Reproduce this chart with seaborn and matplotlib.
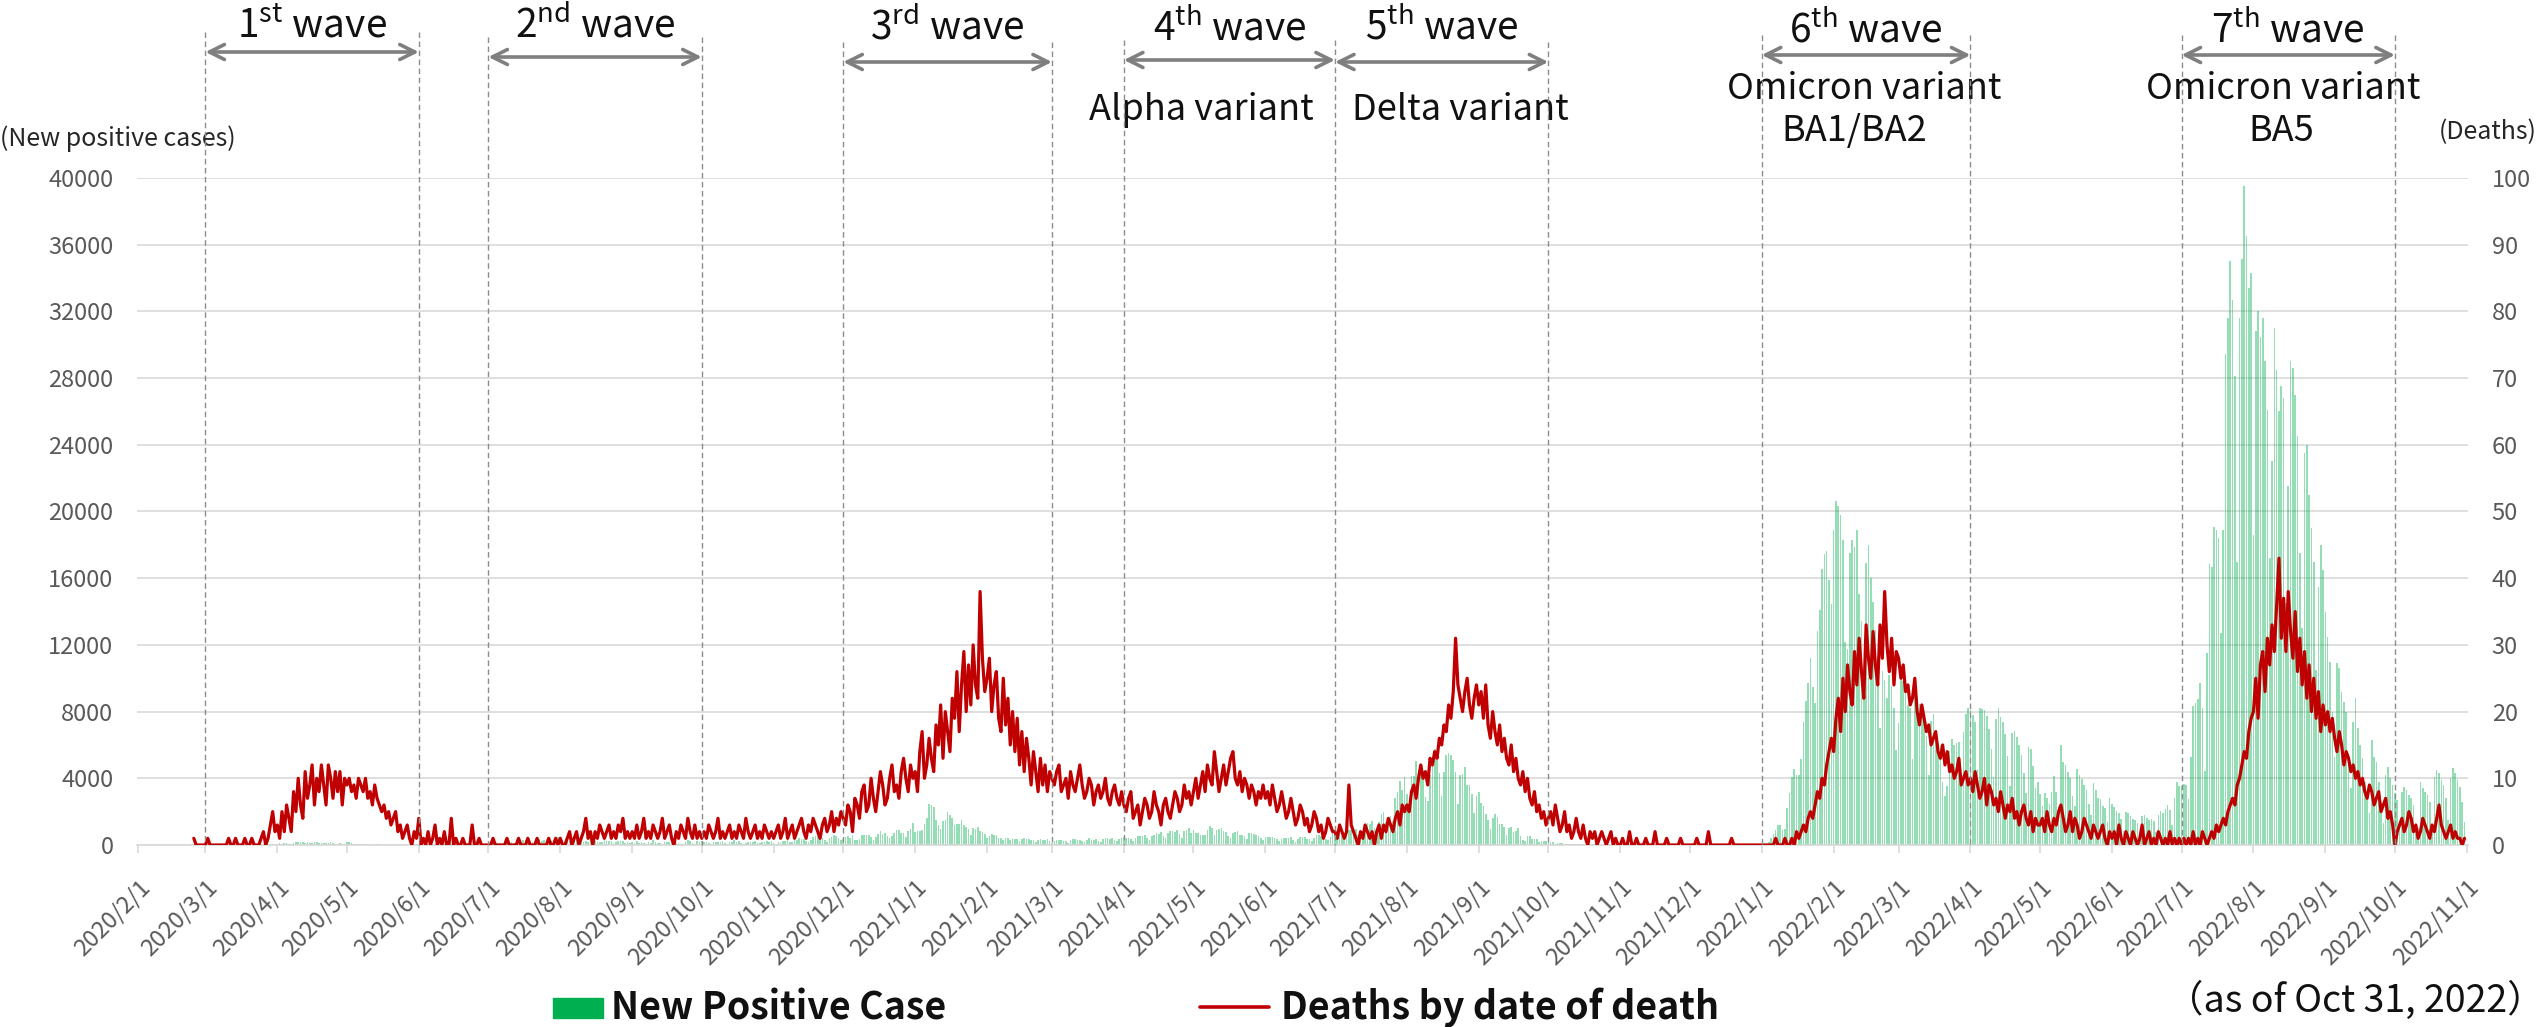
import matplotlib
matplotlib.use("Agg")
import numpy as np
import pandas as pd
import matplotlib.pyplot as plt
import matplotlib.dates as mdates
import matplotlib.transforms as mtransforms
from matplotlib.patches import Rectangle
from matplotlib.lines import Line2D
import seaborn as sns

# ------------------------------------------------------------------
# Data: daily new positive cases (left axis) and deaths by date of death (right axis)
# ------------------------------------------------------------------
cases_2020_02 = [0,0,0,0,0,0,0,0,0,0,0,0,1,2,3,1,2,1,3,1,2,3,1,2,0,3,1,2,1]
cases_2020_03 = [1,1,2,4,8,3,4,4,2,2,2,7,1,4,1,1,2,12,8,5,9,12,18,17,41,47,40,63,68,13,78]
cases_2020_04 = [66,97,89,116,143,83,79,144,181,189,197,166,91,161,127,149,206,181,107,102,123,132,134,161,103,72,39,112,47,46]
cases_2020_05 = [165,154,91,87,58,38,23,39,36,22,15,28,10,30,9,14,5,10,5,5,11,3,2,14,8,21,11,15,22,14,5]
cases_2020_06 = [13,34,12,20,28,26,14,13,12,18,22,25,24,47,48,27,16,41,35,39,29,48,31,55,48,54,57,60,58,54]
cases_2020_07 = [67,107,124,131,111,102,75,224,243,206,206,119,102,143,165,286,293,290,188,168,237,238,366,260,295,131,266,266,250,367,463]
cases_2020_08 = [472,292,258,309,263,360,462,429,331,197,188,222,206,389,385,260,161,207,186,339,258,256,212,95,182,236,250,226,148,199,100]
cases_2020_09 = [170,141,211,136,181,143,77,170,149,276,187,146,146,80,163,163,191,220,218,130,98,88,59,195,270,218,144,78,212,194]
cases_2020_10 = [235,196,207,143,59,194,177,172,186,249,146,78,166,177,284,185,235,124,78,139,185,186,185,215,102,102,158,170,221,203,215]
cases_2020_11 = [116,87,209,122,269,242,294,189,157,293,317,393,374,352,255,180,298,493,534,522,539,391,314,186,401,481,570,561,418,311]
cases_2020_12 = [372,500,533,449,584,327,299,352,572,602,595,621,480,305,460,678,822,664,736,556,392,563,748,888,884,710,708,481,856,944,1337]
cases_2021_01 = [783,814,816,884,1278,1591,2447,2392,2268,1494,1219,970,1433,1502,2001,1809,1592,1204,1274,1240,1471,1184,1070,986,618,1026,973,1064,868,769,633]
cases_2021_02 = [393,556,676,577,577,429,429,276,412,434,307,371,369,371,266,378,445,353,353,327,272,178,275,340,270,329,337,232]
cases_2021_03 = [121,232,316,279,301,239,237,116,290,340,335,304,293,239,175,300,409,323,303,342,256,187,337,420,394,376,430,313,234,364,414]
cases_2021_04 = [475,440,446,355,249,399,555,545,537,570,421,306,510,591,729,667,759,543,405,711,843,861,759,876,635,425,828,925,1027,698]
cases_2021_05 = [879,708,708,609,621,591,907,1121,1032,573,925,969,1010,854,772,542,419,732,766,843,614,629,535,340,743,703,684,614,539,397,309]
cases_2021_06 = [471,487,508,472,436,351,235,369,440,439,435,467,304,209,337,501,452,453,388,376,236,435,619,570,562,534,386,317,476,714]
cases_2021_07 = [673,660,716,518,342,593,920,896,822,950,614,502,830,1149,1308,1271,1410,1008,727,1387,1832,1979,1359,1128,1763,1429,2848,3177,3865,3300,4058]
cases_2021_08 = [3058,2195,4166,4166,5042,4515,4566,4066,2884,2612,4200,4989,5773,5094,4295,2962,4377,5386,5534,5405,5074,4392,2447,4220,4228,4704,3581,3581,3081,1915,2909]
cases_2021_09 = [3168,2539,2362,1853,1490,968,1629,1834,1675,1242,1273,1067,611,1004,1052,782,862,1007,569,302,253,537,531,382,380,382,154,266,267,218]
cases_2021_10 = [200,196,161,87,149,144,138,82,66,60,49,77,77,62,72,66,40,29,36,41,36,26,32,19,17,36,29,21,22,23,9]
cases_2021_11 = [9,29,17,18,25,27,18,6,19,24,28,22,18,18,7,10,22,23,20,7,17,8,15,6,8,20,16,12,9,21]
cases_2021_12 = [14,20,14,19,13,5,16,25,21,11,20,17,10,28,20,20,16,20,16,12,29,25,37,34,37,9,33,76,64,64,78]
cases_2022_01 = [79,84,103,151,390,641,922,1224,1223,871,962,2198,3124,4051,4561,4172,4172,5185,7377,8638,9699,11227,9468,8503,12813,14086,16538,17433,17631,15895,14445]
cases_2022_02 = [18900,20600,20300,19800,18287,12198,11751,17526,18287,17864,18891,15027,13454,9796,16928,18000,16015,14567,12918,11203,7014,10432,9875,8837,10211,9520,8219,5718]
cases_2022_03 = [7331,10088,9813,9217,8411,8190,5185,8925,8934,8478,8122,7587,6536,4181,7424,7865,6886,6089,5989,3787,2939,3533,5648,6372,6015,6099,6162,3815,6774,7857,8226]
cases_2022_04 = [8083,7826,7349,4572,8235,8144,8112,7729,6984,5754,4083,7542,8216,7660,7362,6627,5354,3521,6713,6846,6458,6013,5417,4302,3134,5862,5730,4744,3393,3764]
cases_2022_05 = [3043,2323,3121,2790,2483,3200,4131,3200,2323,6005,4980,4815,4352,4013,2954,2323,4581,4226,3982,3620,3280,2469,1773,3689,3298,2814,2773,2347,2200,1402,2806]
cases_2022_06 = [2455,2271,2046,1938,1542,828,1963,1928,1765,1567,1471,1302,697,1741,1825,1646,1502,1576,1419,796,1788,2021,1948,2132,2427,2094,1176,2802,3803,3546]
cases_2022_07 = [3546,3643,3616,2772,5302,8341,8529,8777,9716,8205,4444,11511,16878,16662,19059,18919,18386,12696,18919,29436,31593,34995,32698,28112,16944,31593,35118,39500,36522,33401,34309]
cases_2022_08 = [18569,30842,32001,30467,31599,29036,26103,17226,23000,31000,28500,26000,27500,26800,14500,21500,29000,28600,27000,24500,17500,13000,23500,24000,21000,19000,17000,10500,15500,18000,16500]
cases_2022_09 = [14000,12500,11000,8000,5300,10900,10600,9200,8600,8000,5000,3400,7400,8800,7000,6000,5200,3800,2800,1900,6300,5300,5000,3800,2600,1300,4200,4700,4000,3600]
cases_2022_10 = [3100,2700,1100,3200,3500,3300,3000,2800,2400,1200,1000,3800,3400,3200,3000,2600,1000,4100,4500,4300,3900,3600,2800,1500,4000,4600,4300,3900,3500,2600,1400]

deaths_2020_02 = [1,0,0,0,0]  # from Feb 25
deaths_2020_03 = [0,1,0,0,0,0,0,0,0,0,1,0,0,1,0,0,0,1,0,0,1,0,0,0,1,2,0,1,3,5,2]
deaths_2020_04 = [3,1,5,2,6,4,2,8,5,10,6,4,11,7,9,12,6,10,8,12,9,6,12,10,7,11,8,11,6,10]
deaths_2020_05 = [9,10,8,9,7,10,9,8,10,7,8,6,9,7,6,5,6,4,5,3,4,5,2,3,1,2,3,1,0,2,1]
deaths_2020_06 = [4,0,1,0,2,0,1,3,0,1,0,2,0,0,4,0,1,0,0,1,0,0,0,3,0,0,1,0,0,0]
deaths_2020_07 = [0,0,1,0,0,0,0,0,1,0,0,0,0,1,0,0,0,1,0,0,0,1,0,0,0,0,1,0,0,1,0]
deaths_2020_08 = [1,0,0,1,2,0,1,2,0,1,2,4,1,2,0,2,1,3,2,1,2,3,1,2,1,3,2,4,1,2,1]
deaths_2020_09 = [2,1,3,1,2,4,1,2,1,3,2,1,2,4,1,2,3,1,0,2,1,3,2,1,4,2,1,3,1,2]
deaths_2020_10 = [1,2,1,3,2,1,2,4,1,2,1,2,3,1,2,1,3,2,1,4,2,1,2,3,1,2,1,3,2,1,2]
deaths_2020_11 = [1,2,3,1,2,4,1,2,3,1,2,3,4,2,1,3,2,4,3,2,1,3,4,2,3,5,2,4,3,5]
deaths_2020_12 = [4,3,6,5,2,7,6,4,8,9,5,6,10,7,5,8,11,9,6,7,10,12,8,9,7,11,13,10,8,12,10]
deaths_2021_01 = [11,8,14,17,10,12,16,13,11,18,15,21,13,20,17,14,22,19,26,17,24,29,20,27,21,30,24,22,38,28,23]
deaths_2021_02 = [25,28,20,24,26,19,17,25,18,22,15,20,14,19,12,17,11,16,13,9,14,11,8,13,9,12,8,11]
deaths_2021_03 = [10,9,11,12,8,9,10,7,11,9,8,10,12,9,7,8,10,9,6,8,9,7,8,10,7,6,8,9,7,6,8]
deaths_2021_04 = [6,5,7,8,4,5,6,3,5,7,6,4,5,8,6,5,3,6,7,5,4,6,8,7,5,6,9,7,8,6]
deaths_2021_05 = [8,10,7,9,11,8,12,10,9,14,11,8,10,12,9,11,13,14,10,9,11,8,10,9,7,9,8,6,8,7,9]
deaths_2021_06 = [7,8,6,9,7,5,6,8,6,4,5,7,5,3,4,6,5,3,4,2,3,5,4,2,3,1,2,4,3,2]
deaths_2021_07 = [2,1,3,2,1,2,9,3,2,1,0,2,1,3,2,1,2,0,2,3,1,3,2,4,3,2,4,5,3,6,5]
deaths_2021_08 = [6,5,8,9,7,10,12,10,11,9,13,12,14,13,16,15,18,17,21,19,23,31,24,22,20,23,25,21,19,22,24]
deaths_2021_09 = [21,23,19,24,18,16,20,17,15,18,14,16,13,12,15,11,13,10,9,11,8,10,7,6,8,5,6,4,5,3]
deaths_2021_10 = [4,5,3,6,4,2,3,5,2,3,1,2,4,2,1,3,1,0,2,1,2,0,1,2,1,0,1,2,0,1,0]
deaths_2021_11 = [0,1,0,0,2,0,0,1,0,0,0,1,0,0,0,2,0,0,0,0,1,0,0,0,0,0,1,0,0,0]
deaths_2021_12 = [0,0,0,1,0,0,0,0,2,0,0,0,0,0,0,0,0,0,1,0,0,0,0,0,0,0,0,0,0,0,0]
deaths_2022_01 = [0,0,0,0,0,0,1,0,0,0,1,0,0,1,0,2,1,2,3,2,4,5,4,6,8,7,10,9,12,14,16]
deaths_2022_02 = [14,19,22,17,25,20,27,23,21,29,24,31,26,22,33,28,25,32,27,24,33,28,38,30,26,31,24,29]
deaths_2022_03 = [28,25,27,23,24,21,22,25,20,18,21,19,17,18,15,16,17,14,13,15,12,14,11,12,10,11,13,9,10,11,9]
deaths_2022_04 = [10,8,11,9,7,8,10,6,9,8,6,7,5,8,6,4,6,5,7,4,5,3,5,6,4,3,5,2,4,3]
deaths_2022_05 = [3,4,2,5,3,2,4,3,5,6,4,2,3,5,2,4,3,1,2,4,3,2,1,3,2,1,2,3,1,0,2]
deaths_2022_06 = [1,2,0,3,1,0,2,1,0,2,1,0,1,3,0,1,2,0,1,0,2,1,0,1,0,2,0,1,0,1]
deaths_2022_07 = [0,1,0,1,0,2,0,1,0,2,1,0,1,2,1,3,2,3,4,3,5,6,7,6,9,10,12,14,13,17,19]
deaths_2022_08 = [20,25,19,27,29,23,31,27,33,29,36,43,31,37,29,38,32,28,35,26,31,24,29,22,27,20,25,19,23,17,21]
deaths_2022_09 = [18,20,17,19,16,14,17,15,12,14,13,11,12,10,11,9,10,8,7,9,8,6,7,8,5,6,7,4,5,3]
deaths_2022_10 = [0,2,3,4,2,3,5,4,2,3,1,2,4,3,2,1,3,2,4,6,3,2,1,2,3,1,2,1,1,0,1]

case_months = [
    ("2020-02-01", cases_2020_02), ("2020-03-01", cases_2020_03), ("2020-04-01", cases_2020_04),
    ("2020-05-01", cases_2020_05), ("2020-06-01", cases_2020_06), ("2020-07-01", cases_2020_07),
    ("2020-08-01", cases_2020_08), ("2020-09-01", cases_2020_09), ("2020-10-01", cases_2020_10),
    ("2020-11-01", cases_2020_11), ("2020-12-01", cases_2020_12), ("2021-01-01", cases_2021_01),
    ("2021-02-01", cases_2021_02), ("2021-03-01", cases_2021_03), ("2021-04-01", cases_2021_04),
    ("2021-05-01", cases_2021_05), ("2021-06-01", cases_2021_06), ("2021-07-01", cases_2021_07),
    ("2021-08-01", cases_2021_08), ("2021-09-01", cases_2021_09), ("2021-10-01", cases_2021_10),
    ("2021-11-01", cases_2021_11), ("2021-12-01", cases_2021_12), ("2022-01-01", cases_2022_01),
    ("2022-02-01", cases_2022_02), ("2022-03-01", cases_2022_03), ("2022-04-01", cases_2022_04),
    ("2022-05-01", cases_2022_05), ("2022-06-01", cases_2022_06), ("2022-07-01", cases_2022_07),
    ("2022-08-01", cases_2022_08), ("2022-09-01", cases_2022_09), ("2022-10-01", cases_2022_10),
]
death_months = [
    ("2020-02-25", deaths_2020_02), ("2020-03-01", deaths_2020_03), ("2020-04-01", deaths_2020_04),
    ("2020-05-01", deaths_2020_05), ("2020-06-01", deaths_2020_06), ("2020-07-01", deaths_2020_07),
    ("2020-08-01", deaths_2020_08), ("2020-09-01", deaths_2020_09), ("2020-10-01", deaths_2020_10),
    ("2020-11-01", deaths_2020_11), ("2020-12-01", deaths_2020_12), ("2021-01-01", deaths_2021_01),
    ("2021-02-01", deaths_2021_02), ("2021-03-01", deaths_2021_03), ("2021-04-01", deaths_2021_04),
    ("2021-05-01", deaths_2021_05), ("2021-06-01", deaths_2021_06), ("2021-07-01", deaths_2021_07),
    ("2021-08-01", deaths_2021_08), ("2021-09-01", deaths_2021_09), ("2021-10-01", deaths_2021_10),
    ("2021-11-01", deaths_2021_11), ("2021-12-01", deaths_2021_12), ("2022-01-01", deaths_2022_01),
    ("2022-02-01", deaths_2022_02), ("2022-03-01", deaths_2022_03), ("2022-04-01", deaths_2022_04),
    ("2022-05-01", deaths_2022_05), ("2022-06-01", deaths_2022_06), ("2022-07-01", deaths_2022_07),
    ("2022-08-01", deaths_2022_08), ("2022-09-01", deaths_2022_09), ("2022-10-01", deaths_2022_10),
]

# wave periods
wave_numbers = ["1", "2", "3", "4", "5", "6", "7"]
wave_suffixes = ["st", "nd", "rd", "th", "th", "th", "th"]
wave_starts = ["2020-03-01", "2020-07-01", "2020-12-01", "2021-04-01", "2021-07-01", "2022-01-01", "2022-07-01"]
wave_ends = ["2020-06-01", "2020-10-01", "2021-03-01", "2021-07-01", "2021-10-01", "2022-04-01", "2022-10-01"]
variant_labels = [[], [], [], ["Alpha variant"], ["Delta variant"],
                  ["Omicron variant", "BA1/BA2"], ["Omicron variant", "BA5"]]

left_ticks = list(range(0, 40001, 4000))
right_ticks = list(range(0, 101, 10))


def build(months):
    idx, vals = [], []
    for start, v in months:
        st = pd.Timestamp(start)
        if st.day == 1 and len(v) != st.days_in_month:
            raise ValueError(f"{start}: {len(v)} values, expected {st.days_in_month}")
        idx.append(pd.date_range(st, periods=len(v), freq="D"))
        vals.extend(v)
    return idx[0].append(idx[1:]), np.asarray(vals, dtype=float)


case_dates, cases_all = build(case_months)
death_dates, deaths_all = build(death_months)

# ------------------------------------------------------------------
# Figure
# ------------------------------------------------------------------
sns.set_theme(style="white")
plt.rcParams["font.family"] = ["Noto Sans CJK JP", "DejaVu Sans"]
plt.rcParams["mathtext.fontset"] = "custom"
plt.rcParams["mathtext.rm"] = "Noto Sans CJK JP"
plt.rcParams["axes.unicode_minus"] = False

W, H = 2542, 1027
fig = plt.figure(figsize=(W / 100, H / 100), dpi=100)
L, R, T, B = 137, 2468, 178, 845
ax = fig.add_axes([L / W, 1 - B / H, (R - L) / W, (B - T) / H])


def fy(py):
    return 1 - py / H


def fx(px):
    return px / W


xc = mdates.date2num(case_dates)
sns.barplot(x=xc, y=cases_all, native_scale=True, orient="x", width=0.7,
            color="#00B050", saturation=1, alpha=0.42, linewidth=0,
            errorbar=None, ax=ax, zorder=2)

ax2 = ax.twinx()
xd = mdates.date2num(death_dates)
sns.lineplot(x=xd, y=deaths_all, ax=ax2, color="#C00000", linewidth=2.3,
             legend=False, zorder=3)

x0 = mdates.date2num(pd.Timestamp("2020-02-01")) - 0.5
x1 = mdates.date2num(pd.Timestamp("2022-11-01")) + 0.5
ax.set_xlim(x0, x1)
ax.set_ylim(0, 40000)
ax2.set_ylim(0, 100)
ax.set_yticks(left_ticks)
ax.set_yticklabels([str(t) for t in left_ticks])
ax2.set_yticks(right_ticks)
ax2.set_yticklabels([str(t) for t in right_ticks])

ticks = pd.date_range("2020-02-01", "2022-11-01", freq="MS")
ax.set_xticks(mdates.date2num(ticks))
ax.set_xticklabels([f"{t.year}/{t.month}/{t.day}" for t in ticks],
                   rotation=45, ha="right", va="top", rotation_mode="anchor")

for a in (ax, ax2):
    for s in a.spines.values():
        s.set_visible(False)
    a.set_xlabel("")
    a.set_ylabel("")
ax.spines["bottom"].set_visible(True)
ax.spines["bottom"].set_color("#D9D9D9")
ax.spines["bottom"].set_linewidth(1.2)

ax.set_axisbelow(True)
ax.grid(axis="y", color="#D9D9D9", linewidth=1.2)
ax.grid(axis="x", visible=False)

tick_col = "#595959"
ax.tick_params(axis="y", length=0, pad=17, labelsize=17, labelcolor=tick_col)
ax2.tick_params(axis="y", length=0, pad=17, labelsize=17, labelcolor=tick_col)
ax.tick_params(axis="x", length=6, width=1.2, color="#D9D9D9", pad=16,
               labelsize=17, labelcolor=tick_col, bottom=True)

# unit labels
fig.text(fx(0), fy(139), "(New positive cases)", ha="left", va="center",
         fontsize=18, color="#262626")
fig.text(fx(2537), fy(132), "(Deaths)", ha="right", va="center",
         fontsize=18, color="#262626")

# wave annotations
trans = mtransforms.blended_transform_factory(ax.transData, fig.transFigure)
arrow_y = [52, 57, 62, 60, 62, 55, 55]
title_y = [26, 26, 28, 29, 28, 31, 31]
# variant label positions in figure pixels (x, y)
variant_pos = {3: [(1201, 110)], 4: [(1460, 110)],
               5: [(1864, 89), (1854, 131)], 6: [(2283, 89), (2281, 131)]}
grey = "#7F7F7F"

line_tops = {}
for i, (s, e) in enumerate(zip(wave_starts, wave_ends)):
    for d in (s, e):
        line_tops[d] = min(line_tops.get(d, 10**6), arrow_y[i] - 20)

for d, top in line_tops.items():
    xv = mdates.date2num(pd.Timestamp(d))
    fig.add_artist(Line2D([xv, xv], [fy(top), fy(B)], transform=trans,
                          color="#8C8C8C", lw=1.0, linestyle=(0, (4, 2.5)), zorder=5))

for i, (s, e) in enumerate(zip(wave_starts, wave_ends)):
    xs = mdates.date2num(pd.Timestamp(s))
    xe = mdates.date2num(pd.Timestamp(e))
    ay = fy(arrow_y[i])
    ax.annotate("", xy=(xe, ay), xytext=(xs, ay), xycoords=trans, textcoords=trans,
                arrowprops=dict(arrowstyle="<->,head_length=0.9,head_width=0.45",
                                color=grey, lw=2.6, shrinkA=0, shrinkB=0),
                annotation_clip=False)
    xm = (xs + xe) / 2
    ax.text(xm, fy(title_y[i]),
            wave_numbers[i] + r"$^{\rm " + wave_suffixes[i] + r"}$ wave",
            transform=trans, ha="center", va="center", fontsize=28, color="#111111")
    for lab, (px, py) in zip(variant_labels[i], variant_pos.get(i, [])):
        fig.text(fx(px), fy(py), lab, ha="center", va="center",
                 fontsize=26, color="#111111")

# legend (bottom)
fig.add_artist(Rectangle((fx(553), fy(1018)), fx(50), 20 / H,
                         transform=fig.transFigure, color="#00B050"))
fig.text(fx(611), fy(1020), "New Positive Case", ha="left", va="baseline",
         fontsize=27, fontweight="bold", color="#111111")
fig.add_artist(Line2D([fx(1200), fx(1269)], [fy(1007), fy(1007)],
                      transform=fig.transFigure, color="#C00000", lw=2.6))
fig.text(fx(1281), fy(1020), "Deaths by date of death", ha="left", va="baseline",
         fontsize=27, fontweight="bold", color="#111111")
fig.text(fx(2545), fy(1012), "（as of Oct 31, 2022）", ha="right", va="baseline",
         fontsize=27, color="#111111")

fig.savefig("out.png", dpi=100)
